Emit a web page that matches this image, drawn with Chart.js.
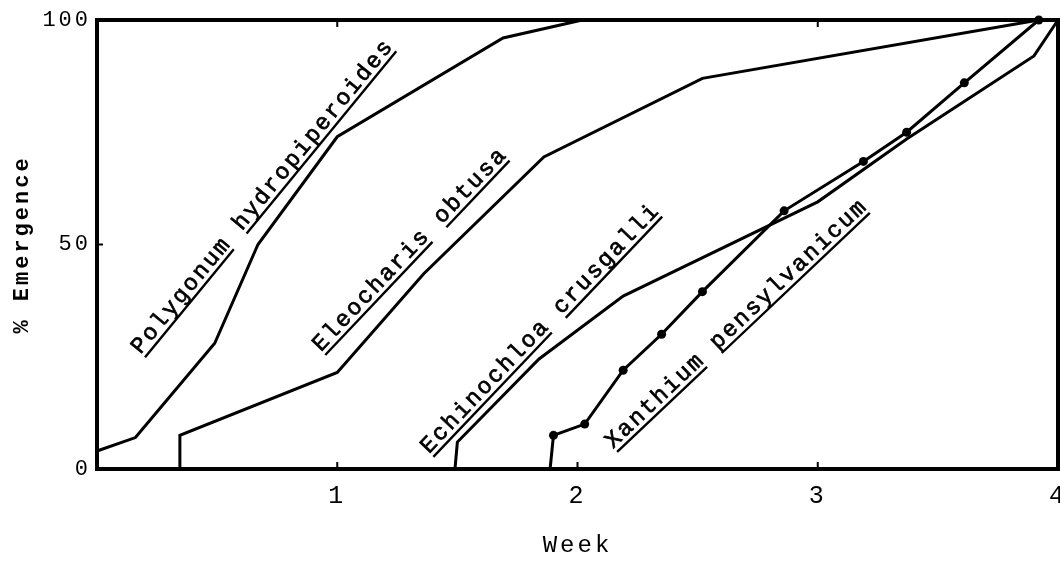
<!DOCTYPE html>
<html>
<head>
<meta charset="utf-8">
<script src="https://cdn.jsdelivr.net/npm/chart.js@4/dist/chart.umd.min.js"></script>
<style>
html,body{margin:0;padding:0;background:#fff;overflow:hidden;}
#wrap{width:1080px;height:561px;position:relative;}
</style>
</head>
<body>
<div id="wrap"><canvas id="c"></canvas></div>
<script>
// ---- data ----
const xTickValues = [0, 1, 2, 3, 4];
const xTickLabels = ['', '1', '2', '3', '4'];
const yTickValues = [0, 50, 100];
const yTickLabels = ['0', '50', '100'];

const polygonumWeeks = [0, 0.16, 0.49, 0.67, 1.0, 1.69, 2.02];
const polygonumPct   = [4, 7, 28, 50, 74, 96, 100];

const eleocharisWeeks = [0.345, 0.345, 1.0, 1.36, 1.86, 2.52, 3.92];
const eleocharisPct   = [0, 7.5, 21.5, 43.5, 69.5, 87, 100];

const echinochloaWeeks = [1.49, 1.5, 1.84, 2.19, 3.0, 3.37, 3.9, 4.0];
const echinochloaPct   = [0, 6, 24.5, 38.5, 59.5, 73.5, 92, 100];

const xanthiumWeeks = [1.886, 1.9, 2.03, 2.19, 2.35, 2.52, 2.86, 3.19, 3.37, 3.61, 3.92];
const xanthiumPct   = [0, 7.5, 10, 22, 30, 39.5, 57.5, 68.5, 75, 86, 100];

const speciesNames = ['Polygonum hydropiperoides', 'Eleocharis obtusa', 'Echinochloa crusgalli', 'Xanthium pensylvanicum'];

const xTitle = 'Week';
const yTitle = '% Emergence';

// ---- build ----
const toPts = (xs, ys) => xs.map((x, i) => ({x: x, y: ys[i]}));

const lineStyle = {borderColor: '#000', backgroundColor: '#000', borderWidth: 3, pointRadius: 0, tension: 0, fill: false, clip: false};

const datasets = [
  Object.assign({label: speciesNames[0], data: toPts(polygonumWeeks, polygonumPct)}, lineStyle),
  Object.assign({label: speciesNames[1], data: toPts(eleocharisWeeks, eleocharisPct)}, lineStyle),
  Object.assign({label: speciesNames[2], data: toPts(echinochloaWeeks, echinochloaPct)}, lineStyle),
  Object.assign({label: speciesNames[3], data: toPts(xanthiumWeeks, xanthiumPct)}, lineStyle,
    {pointRadius: (c) => c.dataIndex === 0 ? 0 : 4.5, pointBorderWidth: 0})
];

const labelPlacement = [
  {x: 0.20, y: 24.9, angle: 50.6},
  {x: 0.95, y: 25.4, angle: 46.5},
  {x: 1.40, y: 2.7,  angle: 46.4},
  {x: 2.165, y: 3.8, angle: 43.4}
];

const decorPlugin = {
  id: 'decor',
  beforeDraw(chart) {
    chart.ctx.letterSpacing = '3px';
  },
  afterDatasetsDraw(chart) {
    const ctx = chart.ctx;
    const xs = chart.scales.x, ys = chart.scales.y;
    const {left, right, top, bottom} = chart.chartArea;
    ctx.save();
    ctx.letterSpacing = '0px';
    ctx.strokeStyle = '#000';
    ctx.fillStyle = '#000';
    // frame
    ctx.lineWidth = 4;
    ctx.strokeRect(left, top, right - left, bottom - top);
    // inward ticks
    ctx.lineWidth = 2;
    [1, 2, 3].forEach(v => {
      const x = xs.getPixelForValue(v);
      ctx.beginPath(); ctx.moveTo(x, bottom); ctx.lineTo(x, bottom - 7); ctx.stroke();
    });
    [1, 3].forEach(v => {
      const x = xs.getPixelForValue(v);
      ctx.beginPath(); ctx.moveTo(x, top); ctx.lineTo(x, top + 7); ctx.stroke();
    });
    const y50 = ys.getPixelForValue(50);
    ctx.beginPath(); ctx.moveTo(left, y50); ctx.lineTo(left + 6, y50); ctx.stroke();

    // species labels, rotated and underlined
    ctx.font = '23px "Liberation Mono", monospace';
    ctx.textAlign = 'left';
    ctx.textBaseline = 'alphabetic';
    const pitch = 16;
    const cw = ctx.measureText('M').width;
    labelPlacement.forEach((a, i) => {
      const text = speciesNames[i];
      ctx.save();
      ctx.translate(xs.getPixelForValue(a.x), ys.getPixelForValue(a.y));
      ctx.rotate(-a.angle * Math.PI / 180);
      ctx.lineWidth = 0.7;
      for (let k = 0; k < text.length; k++) {
        if (text[k] !== ' ') {
          ctx.fillText(text[k], k * pitch - 1, -5);
          ctx.strokeText(text[k], k * pitch - 1, -5);
        }
      }
      ctx.lineWidth = 2.4;
      let start = 0;
      text.split(' ').forEach(w => {
        const x0 = start * pitch;
        const x1 = (start + w.length - 1) * pitch + cw - 2;
        ctx.beginPath(); ctx.moveTo(x0, 0); ctx.lineTo(x1, 0); ctx.stroke();
        start += w.length + 1;
      });
      ctx.restore();
    });
    ctx.restore();
  }
};

new Chart(document.getElementById('c'), {
  type: 'line',
  data: {datasets: datasets},
  options: {
    responsive: true,
    maintainAspectRatio: false,
    animation: false,
    events: [],
    layout: {padding: {left: 8, right: 22, top: 20, bottom: 1}},
    plugins: {legend: {display: false}, tooltip: {enabled: false}},
    scales: {
      x: {
        type: 'linear', min: 0, max: 4,
        afterBuildTicks: (s) => { s.ticks = xTickValues.map(v => ({value: v})); },
        ticks: {
          color: '#000', padding: 12, maxRotation: 0, autoSkip: false,
          font: {family: '"Liberation Mono", monospace', size: 25},
          callback: (v) => xTickLabels[xTickValues.indexOf(v)]
        },
        grid: {display: false, drawTicks: false},
        border: {display: false},
        title: {display: true, text: xTitle, color: '#000', padding: {top: 0, bottom: 0},
          font: {family: '"Liberation Mono", monospace', size: 24}},
        afterFit: (s) => { s.height = 91; }
      },
      y: {
        type: 'linear', min: 0, max: 100,
        afterBuildTicks: (s) => { s.ticks = yTickValues.map(v => ({value: v})); },
        ticks: {
          color: '#000', padding: 6,
          font: {family: '"Liberation Mono", monospace', size: 22},
          callback: (v) => yTickLabels[yTickValues.indexOf(v)]
        },
        grid: {display: false, drawTicks: false},
        border: {display: false},
        title: {display: true, text: yTitle, color: '#000', padding: {top: 1, bottom: 0},
          font: {family: '"Liberation Mono", monospace', size: 22, weight: 'bold'}},
        afterFit: (s) => { s.width = 89; }
      }
    }
  },
  plugins: [decorPlugin]
});
</script>
</body>
</html>
